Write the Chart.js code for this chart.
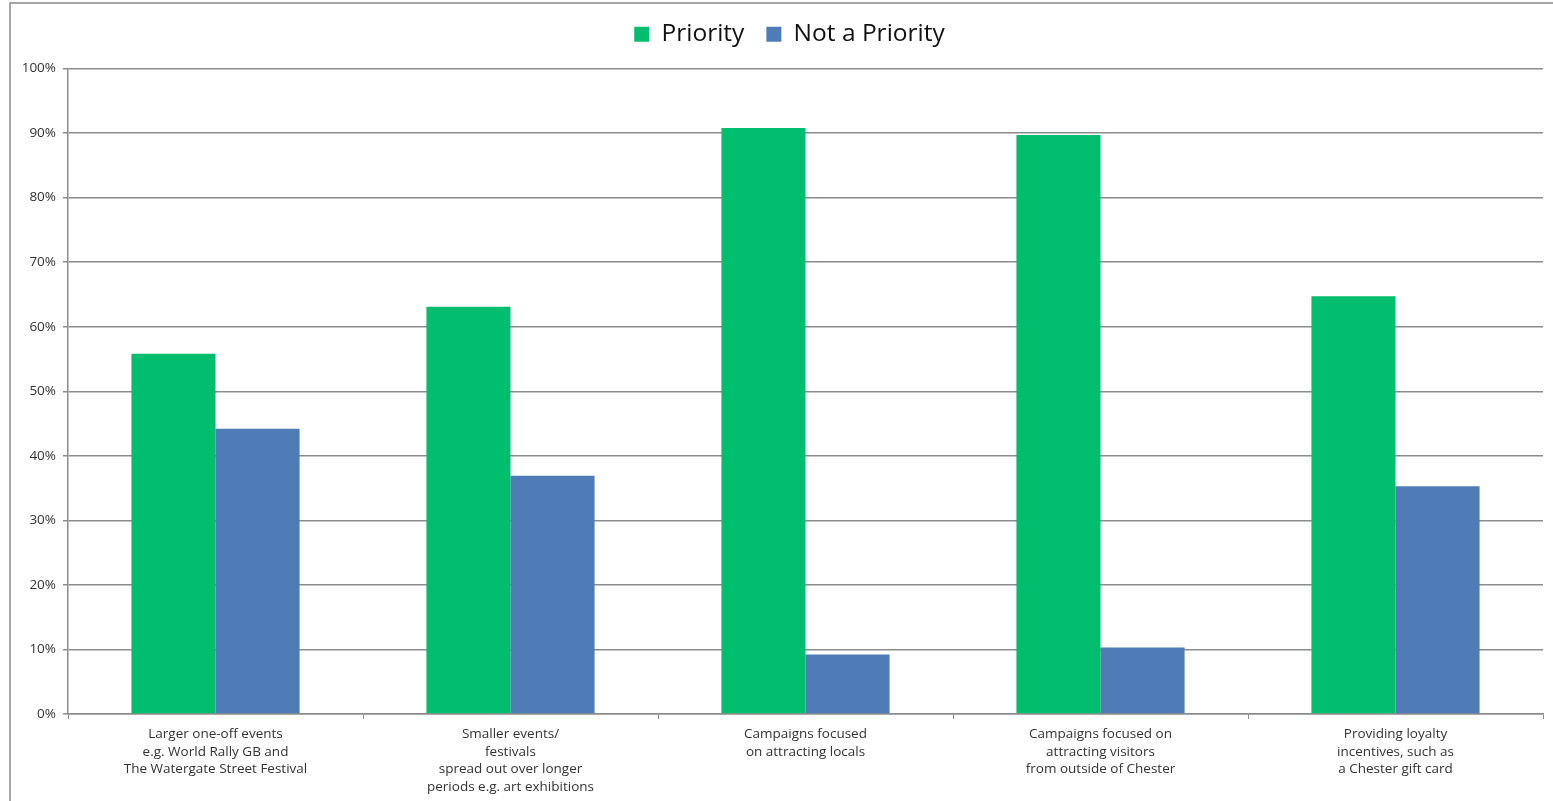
<!DOCTYPE html>
<html>
<head>
<meta charset="utf-8">
<script src="https://cdn.jsdelivr.net/npm/chart.js@4"></script>
<style>
  body { margin: 0; background: #fff; }
  #wrap { position: absolute; left: 0; top: 0; width: 1553px; height: 801px; }
</style>
</head>
<body>
<div id="wrap"><canvas id="chart"></canvas></div>
<script>
var categories = [
    ['Larger one-off events', 'e.g. World Rally GB and', 'The Watergate Street Festival'],
    ['Smaller events/', 'festivals', 'spread out over longer', 'periods e.g. art exhibitions'],
    ['Campaigns focused', 'on attracting locals'],
    ['Campaigns focused on', 'attracting visitors', 'from outside of Chester'],
    ['Providing loyalty', 'incentives, such as', 'a Chester gift card']
];
var priority = [55.8, 63.1, 90.8, 89.7, 64.7];
var notPriority = [44.2, 36.9, 9.2, 10.3, 35.3];
var yTicks = [0, 10, 20, 30, 40, 50, 60, 70, 80, 90, 100];

var gridColor = '#8c8c8c';
var textColor = '#333333';

// outer frame like the exported chart box, plus legend nudges
var framePlugin = {
    id: 'frame',
    beforeInit: function(chart) {
        // extra room below the legend
        var fit = chart.legend.fit;
        chart.legend.fit = function() {
            fit.call(this);
            this.height += 12;
        };
    },
    afterLayout: function(chart) {
        // legend sits a little right of centre in the original
        chart.legend.left += 26;
    },
    beforeDraw: function(chart) {
        var ctx = chart.ctx;
        ctx.save();
        ctx.strokeStyle = '#8a8a8a';
        ctx.lineWidth = 1.5;
        ctx.beginPath();
        ctx.moveTo(10, chart.height);
        ctx.lineTo(10, 3);
        ctx.lineTo(chart.width, 3);
        ctx.stroke();
        ctx.restore();
    }
};

var ctx = document.getElementById('chart');
var chart = new Chart(ctx, {
    type: 'bar',
    data: {
        labels: categories,
        datasets: [
            { label: 'Priority', data: priority, backgroundColor: '#00BE6E' },
            { label: 'Not a Priority', data: notPriority, backgroundColor: '#4F7CB6' }
        ]
    },
    options: {
        responsive: true,
        maintainAspectRatio: false,
        animation: false,
        datasets: {
            bar: { barPercentage: 1, categoryPercentage: 0.57 }
        },
        layout: { padding: { left: 10, right: 10, top: 0, bottom: 0 } },
        plugins: {
            legend: {
                position: 'top',
                labels: {
                    font: { family: 'Open Sans', size: 24.5 },
                    color: '#111',
                    boxWidth: 15,
                    boxHeight: 15,
                    padding: 22
                }
            },
            tooltip: { enabled: false }
        },
        scales: {
            x: {
                grid: {
                    offset: true,
                    drawOnChartArea: false,
                    color: gridColor,
                    tickLength: 5
                },
                border: { color: gridColor, width: 1.5 },
                ticks: {
                    font: { family: 'Open Sans', size: 13.5, lineHeight: 1.32 },
                    color: textColor,
                    maxRotation: 0,
                    autoSkip: false,
                    padding: 6
                },
                afterFit: function(scale) { scale.height = 87; }
            },
            y: {
                min: 0,
                max: 100,
                afterBuildTicks: function(scale) {
                    scale.ticks = yTicks.map(function(v) { return { value: v }; });
                },
                grid: { color: gridColor, lineWidth: 1.5, tickLength: 5 },
                border: { color: gridColor, width: 1.5 },
                ticks: {
                    font: { family: 'Open Sans', size: 13.5 },
                    color: textColor,
                    padding: 7,
                    callback: function(v) { return v + '%'; }
                },
                afterFit: function(scale) { scale.width = 58; }
            }
        }
    },
    plugins: [framePlugin]
});
</script>
</body>
</html>
